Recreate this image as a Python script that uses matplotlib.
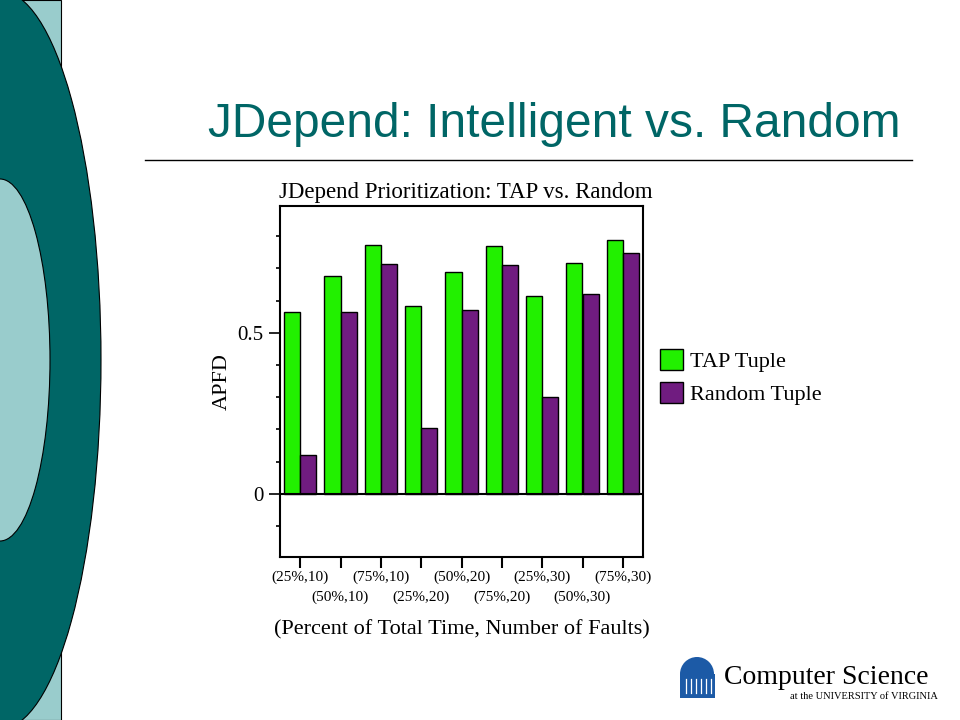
import numpy as np
import matplotlib
matplotlib.use("Agg")
import matplotlib.pyplot as plt
from matplotlib.patches import Rectangle, Ellipse, Wedge, Patch
from matplotlib.ticker import MultipleLocator, FixedLocator, FixedFormatter

# --------------------------------------------
# Data
# --------------------------------------------
categories = ["(25%,10)", "(50%,10)", "(75%,10)",
              "(25%,20)", "(50%,20)", "(75%,20)",
              "(25%,30)", "(50%,30)", "(75%,30)"]
tap_tuple = [0.566, 0.677, 0.773, 0.583, 0.689, 0.771, 0.616, 0.718, 0.787]
random_tuple = [0.122, 0.566, 0.714, 0.206, 0.571, 0.712, 0.301, 0.620, 0.749]

green = "#22F000"
purple = "#701C80"
teal = "#006666"
light_teal = "#99CCCC"
serif = "Liberation Serif"

fig = plt.figure(figsize=(9.6, 7.2), dpi=100)

# --------------------------------------------
# Slide background (pixel coordinates)
# --------------------------------------------
bg = fig.add_axes([0, 0, 1, 1], zorder=0)
bg.set_xlim(0, 960)
bg.set_ylim(720, 0)
bg.axis("off")

bg.add_patch(Rectangle((0, 0), 61, 720, facecolor=light_teal,
                       edgecolor="black", linewidth=0.8))
bg.add_patch(Ellipse((0, 360), 202, 738, facecolor=teal,
                     edgecolor="black", linewidth=0.8))
bg.add_patch(Ellipse((0, 360), 100, 362, facecolor=light_teal,
                     edgecolor="black", linewidth=0.8))
bg.plot([145, 912], [160, 160], color="black", linewidth=1)

bg.text(208, 137, "JDepend: Intelligent vs. Random", color=teal,
        fontsize=34.5, family="Liberation Sans", ha="left", va="baseline")

# logo
blue = "#1C5AA6"
bg.add_patch(Wedge((697, 674), 17, 180, 360, facecolor=blue))
bg.add_patch(Rectangle((680, 674), 35, 24, facecolor=blue))
for cx in [686, 691, 696, 701, 706, 711]:
    bg.plot([cx, cx], [679, 693], color="white", linewidth=0.9)
bg.text(724, 684, "Computer Science", fontsize=20, family=serif,
        ha="left", va="baseline")
bg.text(790, 699, "at the UNIVERSITY of VIRGINIA", fontsize=7.5,
        family=serif, ha="left", va="baseline")

# --------------------------------------------
# Chart
# --------------------------------------------
ax = fig.add_axes([280 / 960, 1 - 557 / 720, 363 / 960, 351 / 720], zorder=1)
x = np.arange(len(categories))
w = 0.4

ax.bar(x - w / 2, tap_tuple, w, color=green, edgecolor="black",
       linewidth=1, label="TAP Tuple")
ax.bar(x + w / 2, random_tuple, w, color=purple, edgecolor="black",
       linewidth=1, label="Random Tuple")
ax.axhline(0, color="black", linewidth=1.5)

ax.set_xlim(-0.5, len(categories) - 0.5)
ax.set_ylim(-0.196, 0.894)

# staggered x labels: even ones on major ticks, odd ones on minor ticks
ax.xaxis.set_major_locator(FixedLocator(x[::2]))
ax.xaxis.set_major_formatter(FixedFormatter(categories[::2]))
ax.xaxis.set_minor_locator(FixedLocator(x[1::2]))
ax.xaxis.set_minor_formatter(FixedFormatter(categories[1::2]))
for lab in ax.get_xticklabels(which="both"):
    lab.set_fontsize(11)
    lab.set_family(serif)
ax.tick_params(axis="x", which="major", direction="out", length=8,
               width=1.5, pad=2)
ax.tick_params(axis="x", which="minor", direction="out", length=8,
               width=1.5, pad=16)

ax.set_yticks([0, 0.5])
ax.set_yticklabels(["0", "0.5"], fontsize=15, family=serif)
ax.yaxis.set_minor_locator(MultipleLocator(0.1))
ax.tick_params(axis="y", which="major", direction="out", length=8,
               width=1.2, pad=4)
ax.tick_params(axis="y", which="minor", direction="out", length=3,
               width=1.2)

for s in ax.spines.values():
    s.set_linewidth(1.5)

ax.set_title("JDepend Prioritization: TAP vs. Random", fontsize=16.5,
             family=serif, pad=6, x=0.513)
ax.set_xlabel("(Percent of Total Time, Number of Faults)", fontsize=16,
              family=serif, labelpad=12)
ax.set_ylabel("APFD", fontsize=16, family=serif, labelpad=4)

handles = [Patch(facecolor=green, edgecolor="black"),
           Patch(facecolor=purple, edgecolor="black")]
fig.legend(handles, ["TAP Tuple", "Random Tuple"], loc="upper left",
           bbox_to_anchor=(660 / 960, 1 - 349 / 720), frameon=False,
           prop={"family": serif, "size": 16}, handlelength=1.05,
           handleheight=1.05, handletextpad=0.3, labelspacing=0.45,
           borderpad=0, borderaxespad=0)

fig.savefig("out.png", dpi=100)
